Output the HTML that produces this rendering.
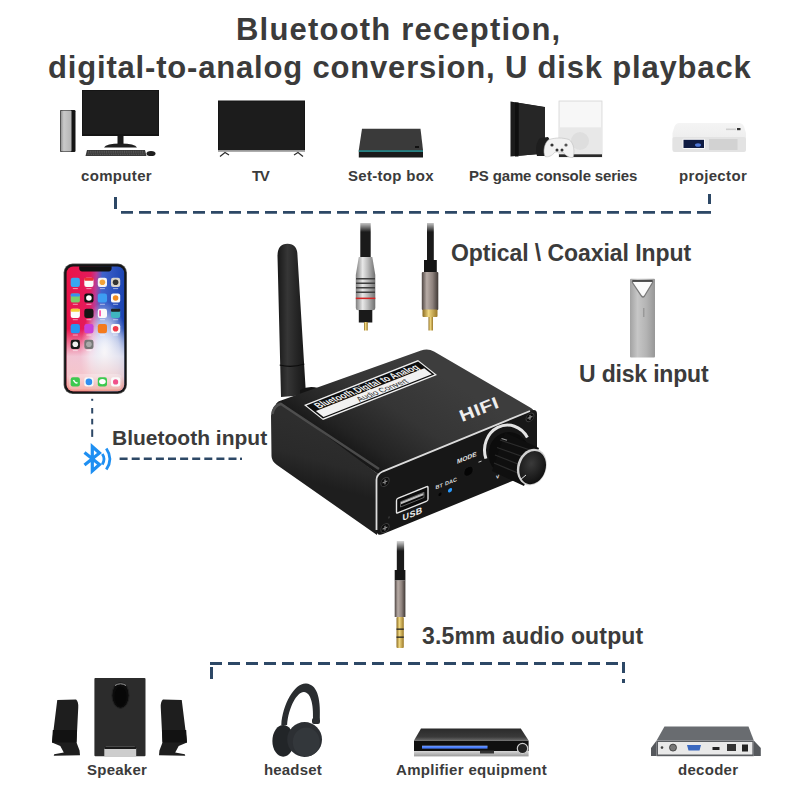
<!DOCTYPE html>
<html><head><meta charset="utf-8">
<style>
html,body{margin:0;padding:0;background:#fff;}
body{width:800px;height:800px;position:relative;overflow:hidden;font-family:"Liberation Sans",sans-serif;}
.t{position:absolute;white-space:nowrap;font-weight:bold;color:#3b3b3b;line-height:1;}
svg{position:absolute;left:0;top:0;}
</style></head><body>
<svg width="800" height="800" viewBox="0 0 800 800">
  <defs>
    <linearGradient id="towerG" x1="0" x2="1"><stop offset="0" stop-color="#8e8e8e"/><stop offset="0.3" stop-color="#c9c9c9"/><stop offset="1" stop-color="#b4b4b4"/></linearGradient>
    <linearGradient id="usbG" x1="0" x2="1"><stop offset="0" stop-color="#a2a2a2"/><stop offset="0.3" stop-color="#c6c6c6"/><stop offset="0.65" stop-color="#b4b4b4"/><stop offset="1" stop-color="#979797"/></linearGradient>
    <linearGradient id="projTop" x1="0" y1="0" x2="0" y2="1"><stop offset="0" stop-color="#f4f4f4"/><stop offset="1" stop-color="#e9e9e9"/></linearGradient>
    <linearGradient id="scrBase" x1="0" y1="0" x2="1" y2="0.1">
      <stop offset="0" stop-color="#ea1448"/><stop offset="0.42" stop-color="#e41a5c"/><stop offset="0.52" stop-color="#b83d98"/><stop offset="0.62" stop-color="#4063cc"/><stop offset="1" stop-color="#1c44b2"/></linearGradient>
    <linearGradient id="scrLow" x1="0" y1="0" x2="0" y2="1">
      <stop offset="0" stop-color="#fff" stop-opacity="0"/><stop offset="0.5" stop-color="#fff" stop-opacity="0"/><stop offset="0.72" stop-color="#f4f0f4" stop-opacity="0.8"/><stop offset="0.88" stop-color="#f6d8d8" stop-opacity="0.9"/><stop offset="1" stop-color="#f29a8a" stop-opacity="0.95"/></linearGradient>
    <radialGradient id="scrCenter" cx="0.66" cy="0.7" r="0.42"><stop offset="0" stop-color="#fff" stop-opacity="1"/><stop offset="0.6" stop-color="#fff" stop-opacity="0.6"/><stop offset="1" stop-color="#fff" stop-opacity="0"/></radialGradient>

    <linearGradient id="devTop" gradientUnits="userSpaceOnUse" x1="330" y1="445" x2="395" y2="345"><stop offset="0" stop-color="#151515"/><stop offset="0.18" stop-color="#232323"/><stop offset="0.55" stop-color="#353535"/><stop offset="1" stop-color="#3d3d3d"/></linearGradient>
    <linearGradient id="devLeft" gradientUnits="userSpaceOnUse" x1="300" y1="420" x2="285" y2="475"><stop offset="0" stop-color="#2e2e2e"/><stop offset="0.6" stop-color="#2a2a2a"/><stop offset="1" stop-color="#1e1e1e"/></linearGradient>
    <linearGradient id="silverH" x1="0" x2="1"><stop offset="0" stop-color="#7d7d7d"/><stop offset="0.35" stop-color="#e8e8e8"/><stop offset="0.6" stop-color="#bdbdbd"/><stop offset="1" stop-color="#6f6f6f"/></linearGradient>
    <linearGradient id="gunH" x1="0" x2="1"><stop offset="0" stop-color="#4e4542"/><stop offset="0.3" stop-color="#b8aca6"/><stop offset="0.65" stop-color="#8e827d"/><stop offset="1" stop-color="#3f3835"/></linearGradient>
    <linearGradient id="goldH" x1="0" x2="1"><stop offset="0" stop-color="#8a6a20"/><stop offset="0.4" stop-color="#f0d780"/><stop offset="1" stop-color="#9a7828"/></linearGradient>
    <linearGradient id="antG" x1="0" x2="1"><stop offset="0" stop-color="#181818"/><stop offset="0.35" stop-color="#363636"/><stop offset="0.7" stop-color="#242424"/><stop offset="1" stop-color="#161616"/></linearGradient>
    <linearGradient id="cableFade" x1="0" y1="0" x2="0" y2="1"><stop offset="0" stop-color="#fff" stop-opacity="1"/><stop offset="1" stop-color="#fff" stop-opacity="0"/></linearGradient>
    <linearGradient id="ampTop" x1="0" y1="0" x2="0" y2="1"><stop offset="0" stop-color="#2a2a2a"/><stop offset="0.7" stop-color="#3a3a3a"/><stop offset="1" stop-color="#6a6a6a"/></linearGradient>
    <linearGradient id="ampFront" x1="0" y1="0" x2="0" y2="1"><stop offset="0" stop-color="#d8d8d8"/><stop offset="1" stop-color="#9a9a9a"/></linearGradient>
    <radialGradient id="knobCap" cx="0.4" cy="0.4" r="0.7"><stop offset="0" stop-color="#3a3a3a"/><stop offset="1" stop-color="#0c0c0c"/></radialGradient>
  </defs>

  <g id="cables">
    <rect x="360.3" y="223" width="10.4" height="36" fill="#1a1a1a"/>
    <path d="M358.8 257 H372.3 L375.3 275 V308 Q375.3 310.3 373 310.3 H358 Q355.8 310.3 355.8 308 V275 Z" fill="url(#silverH)"/>
    <path d="M356 278.7h19M356 283.2h19M356 287.7h19M356 292.2h19" stroke="#3e3e3e" stroke-width="1.6"/>
    <rect x="355.8" y="297.6" width="19.5" height="1.5" fill="#d42424"/>
    <rect x="358.8" y="310" width="13.5" height="12.5" fill="#1a1a1a"/>
    <rect x="364" y="322" width="3.8" height="8.5" fill="url(#goldH)"/>
    <rect x="427" y="223" width="6.8" height="38" fill="#1a1a1a"/>
    <rect x="424" y="260" width="12.8" height="13.5" fill="#151515"/>
    <rect x="421.8" y="272" width="16.5" height="38" rx="1" fill="url(#gunH)"/>
    <rect x="422.5" y="309.5" width="15" height="7.5" rx="1" fill="url(#goldH)"/>
    <rect x="428.5" y="317" width="4.5" height="13.5" fill="url(#goldH)"/>
    <rect x="350" y="220" width="100" height="12" fill="url(#cableFade)"/>
    <rect x="396.8" y="541" width="7.3" height="30" fill="#1a1a1a"/>
    <rect x="390" y="539" width="20" height="12" fill="url(#cableFade)"/>
    <rect x="394.7" y="570" width="10.7" height="10.5" fill="#151515"/>
    <rect x="394.7" y="580.4" width="10.7" height="36.6" fill="url(#gunH)"/>
    <rect x="396.5" y="617" width="7.3" height="31" rx="1" fill="url(#goldH)"/>
    <rect x="396.5" y="628.5" width="7.3" height="1.3" fill="#222"/>
    <rect x="396.5" y="636.5" width="7.3" height="1.3" fill="#222"/>
  </g>
  <g id="device">
    <path d="M277.5 256 Q277.5 243.7 287.5 243.7 Q297.5 243.7 297.5 256 L306 395 L281 397 Z" fill="url(#antG)"/>
    <path d="M279.7 365 Q292 368 304.3 364" stroke="#0c0c0c" stroke-width="1.2" fill="none"/>
    <path d="M300 390 Q309 385 318 388 L318 396 L300 398 Z" fill="#141414"/>
    <path d="M276 405 Q276 402 281 400.5 L421 350.5 Q428 348 434 351.5 L531 408 Q536 411 531 413 L378 474 Z" fill="url(#devTop)"/>
    <path d="M271 416 Q271 406 280 401.5 L378 474 L377 535 L277 465 Q271.5 461 271.5 456 Z" fill="url(#devLeft)"/>
    <path d="M272.5 414 Q274 405 281 404 L379 469" stroke="#575757" stroke-width="2.6" fill="none" opacity="0.8"/>
    <path d="M376 480 Q376 474 383 471 L531 410.5 Q537 408.5 537 414 L537 471 L383 534 Q376.5 536.5 376.5 530 Z" fill="#171717"/>
    <path d="M376.5 530 V480 Q376.5 474.5 383 471.3 L530 411" stroke="#dcdcdc" stroke-width="1.8" fill="none"/>
    <g transform="matrix(0.95,-0.375,1.056,0.833,304,405)">
      <rect x="0" y="0" width="120" height="18" fill="#f1f1f1"/>
      <rect x="1.2" y="1.2" width="117.6" height="15.6" fill="#0e0e0e"/>
      <rect x="3" y="8.6" width="114" height="7.2" fill="#f1f1f1"/>
      <text x="0" y="0" transform="translate(7 7.6) scale(1 1.2)" font-family="Liberation Sans" font-weight="bold" font-size="6.6" fill="#f2f2f2" textLength="107" lengthAdjust="spacingAndGlyphs">Bluetooth,Digital to Analog</text>
      <text x="0" y="0" transform="translate(42 14.9) scale(1 1.15)" font-family="Liberation Sans" font-size="5.6" fill="#2a2a2a" textLength="52" lengthAdjust="spacingAndGlyphs">Audio Convert</text>
    </g>
    <text x="0" y="0" transform="translate(462 422) rotate(-21.5) scale(1.25 1)" font-family="Liberation Sans" font-weight="bold" font-size="16.5" fill="#eeeeee" letter-spacing="0.5">HIFI</text>
    <g transform="matrix(1,-0.405,0,1,0,0)">
      <circle cx="385" cy="637.9" r="4.2" fill="#0c0c0c" stroke="#3e3e3e" stroke-width="0.9"/>
      <path d="M382.6 637.9h4.8M385 635.5v4.8" stroke="#8a8a8a" stroke-width="1.2"/>
      <circle cx="385" cy="684" r="4.2" fill="#0c0c0c" stroke="#3e3e3e" stroke-width="0.9"/>
      <path d="M382.6 684h4.8M385 681.6v4.8" stroke="#8a8a8a" stroke-width="1.2"/>
      <circle cx="389" cy="675" r="1.1" fill="#333"/>
      <rect x="396.5" y="659.5" width="31.5" height="14.5" rx="1.5" fill="#0b0b0b" stroke="#e6e6e6" stroke-width="1.4"/>
      <rect x="400.5" y="664" width="23.5" height="5.2" fill="#0a0a0a" stroke="#8a8a8a" stroke-width="0.6"/>
      <rect x="401" y="664.5" width="22.5" height="2.2" fill="#bdbdbd"/>
      <text x="402.5" y="684" font-family="Liberation Sans" font-weight="bold" font-size="9" fill="#f0f0f0" letter-spacing="0.4">USB</text>
      <text x="435.5" y="666" font-family="Liberation Sans" font-weight="bold" font-size="5.5" fill="#dedede">BT</text>
      <text x="445" y="666" font-family="Liberation Sans" font-weight="bold" font-size="5.5" fill="#dedede">DAC</text>
      <circle cx="440" cy="672.5" r="1.6" fill="#030303"/>
      <circle cx="450" cy="672.5" r="2.1" fill="#2a9bff"/>
      <text x="457" y="649" font-family="Liberation Sans" font-weight="bold" font-size="6.5" fill="#e4e4e4">MODE</text>
      <circle cx="468.5" cy="661" r="4.6" fill="#050505" stroke="#1e1e1e" stroke-width="0.6"/>
      <rect x="478.5" y="655.5" width="3" height="1" fill="#ccc"/>
      <text x="496" y="680" font-family="Liberation Sans" font-weight="bold" font-size="6" fill="#ddd">v</text>
      <circle cx="530" cy="632" r="4" fill="#0c0c0c" stroke="#3e3e3e" stroke-width="0.9"/>
      <path d="M527.6 632h4.8M530 629.6v4.8" stroke="#8a8a8a" stroke-width="1.2"/>
    </g>
    <path d="M485.9 458.6 A23 25 0 0 1 527.4 437.5" stroke="#e4e4e4" stroke-width="3" fill="none"/>
    <ellipse cx="509" cy="454" rx="20.5" ry="22" fill="#0c0c0c"/>
    <path d="M505 432.5 L539 448 L524 486 L492 471 Z" fill="#0f0f0f"/>
    <path d="M500 440 L536 452 M497 447.5 L532 460 M495 455 L528 468 M494 463 L525 476" stroke="#2c2c2c" stroke-width="1.3"/>
    <path d="M501.5 438.5 L507 440.3" stroke="#9a9a9a" stroke-width="1.2"/>
    <g transform="translate(531.8 467) rotate(18)">
      <ellipse cx="0" cy="0" rx="14.5" ry="18.6" fill="#d0d0d0"/>
      <ellipse cx="1" cy="0.3" rx="12.9" ry="17" fill="url(#knobCap)"/>
    </g>
    <path d="M520 480 L526 475" stroke="#e0e0e0" stroke-width="1"/>
  </g>
  <g id="speakers">
    <rect x="94.4" y="678" width="51.1" height="78.2" rx="1" fill="#2c2c2c"/>
    <path d="M104.3 756.2 V748.5 Q104.3 746.8 106 746.8 H134.5 Q136.2 746.8 136.2 748.5 V756.2 Z" fill="#cdcdcd"/>
    <rect x="104.3" y="746.8" width="31.9" height="2.2" fill="#1a1a1a"/>
    <ellipse cx="120.5" cy="695.4" rx="8.6" ry="13" fill="#0c0c0c" stroke="#222" stroke-width="1"/>
    <path d="M115 685.5 Q120.5 682 126 685.5" stroke="#9a9a9a" stroke-width="1" fill="none"/>
    <ellipse cx="120.5" cy="696.5" rx="6" ry="10" fill="#070707"/>
    <path d="M57.25 700.1 L76.06 699.6 Q78.5 701.5 78.25 707.5 L76.5 742.5 L79.56 750.4 L80 755.2 L53.75 755.8 L54.2 754.3 L63.8 752.6 L60.3 746 L52 742.5 Z" fill="#1e1e1e"/>
    <path d="M52.8 730 L77 730 L76.5 742.5 L52 742.5 Z" fill="#121212"/>
    <g transform="translate(239 0) scale(-1 1)">
      <path d="M57.25 700.1 L76.06 699.6 Q78.5 701.5 78.25 707.5 L76.5 742.5 L79.56 750.4 L80 755.2 L53.75 755.8 L54.2 754.3 L63.8 752.6 L60.3 746 L52 742.5 Z" fill="#1e1e1e"/>
      <path d="M52.8 730 L77 730 L76.5 742.5 L52 742.5 Z" fill="#121212"/>
    </g>
  </g>
  <g id="headset">
    <path d="M281.3 724.9 C282.6 703.8 295 682.4 306.3 683.5 C316.4 684.6 320.9 695.9 319.8 719.5 L313 719.5 C313.6 703.8 310.8 692.5 304 691.9 C297.3 691.4 288.3 707.1 287.1 725.1 Z" fill="#2a2d30"/>
    <ellipse cx="283.2" cy="740.9" rx="10.8" ry="15.8" fill="#222528"/>
    <ellipse cx="304.6" cy="739.5" rx="17.4" ry="17.4" fill="#2c2f33"/>
    <ellipse cx="306.3" cy="742" rx="13.5" ry="14.6" fill="#33373b"/>
    <rect x="312" y="718" width="8" height="6" rx="2" fill="#2a2d30"/>
  </g>
  <g id="amp">
    <path d="M421 728.4 H520.8 L528.6 740.6 H414 Z" fill="url(#ampTop)"/>
    <rect x="414" y="740.6" width="114.6" height="10.5" fill="#101010"/>
    <rect x="414" y="751" width="114.6" height="5.4" fill="url(#ampFront)"/>
    <rect x="422" y="746" width="65.5" height="2.6" fill="#4a7fff"/>
    <rect x="422" y="745.5" width="65.5" height="1" fill="#9cc0ff" opacity="0.6"/>
    <circle cx="522.5" cy="748.5" r="5.2" fill="#222" stroke="#ccc" stroke-width="1.2"/>
    <rect x="480" y="750.5" width="14" height="3" fill="#333"/>
  </g>
  <g id="decoder">
    <path d="M664.5 726.6 H748.5 L753.8 740.6 H656.6 Z" fill="#696c70"/>
    <path d="M651 748 L656.6 740.6 V756 H651 Z" fill="#55585c"/>
    <path d="M760.8 748 L753.8 740.6 V756 H760.8 Z" fill="#55585c"/>
    <rect x="656.6" y="740.6" width="97.2" height="15.6" fill="#5a5d61"/>
    <rect x="658" y="742" width="94.4" height="12.5" fill="#e9e9e9"/>
    <circle cx="673" cy="747.6" r="3.5" fill="#777" stroke="#333" stroke-width="0.8"/>
    <circle cx="662" cy="747.6" r="1.3" fill="#444"/>
    <path d="M687 745 H701 L699.5 750.5 H688.5 Z" fill="#3a68c0"/>
    <rect x="712.5" y="747" width="7" height="3" fill="#222"/>
    <rect x="727" y="744" width="9" height="7" fill="#333"/>
    <rect x="742" y="744.5" width="6" height="7" fill="#222"/>
  </g>
  <g id="bt">
    <path d="M84.5 452.5 L99.5 464.5 L92.3 471 V446.5 L99.5 453 L84.5 465" stroke="#1e8ff2" stroke-width="3.2" fill="none" stroke-linejoin="miter"/>
    <path d="M102.3 454 Q105.8 459 102.3 464.5" stroke="#1e8ff2" stroke-width="2.8" fill="none"/>
    <path d="M106.3 448.5 Q113.5 459 106.3 469.5" stroke="#1e8ff2" stroke-width="2.8" fill="none"/>
  </g>
  <g id="computer">
    <rect x="60" y="110" width="15.5" height="42" rx="1.2" fill="#151515"/>
    <rect x="60.5" y="110.5" width="11" height="41" rx="1" fill="url(#towerG)"/>
    <rect x="82" y="90" width="77" height="46" fill="#151515"/>
    <rect x="83" y="91" width="75" height="43" fill="#1d1d1d"/>
    <rect x="117.5" y="136" width="6" height="9" fill="#1a1a1a"/>
    <path d="M104 147.5 Q106 143.5 120.5 143.5 Q135 143.5 137 147.5 Z" fill="#1f1f1f"/>
    <path d="M87 150 H145 L146.5 156 H85.5 Z" fill="#3a3a3a"/>
    <path d="M88 151.3 H144 M88 152.8 H144.5 M87.5 154.3 H145" stroke="#777" stroke-width="0.6" stroke-dasharray="1 0.8"/>
    <ellipse cx="151" cy="153.5" rx="4.5" ry="2.6" fill="#1e1e1e"/>
  </g>
  <g id="tv">
    <rect x="218" y="100.5" width="87" height="50.5" fill="#151515"/>
    <rect x="219" y="101.5" width="85" height="48.5" fill="#1c1c1c"/>
    <rect x="218" y="150" width="87" height="1.8" fill="#9a9a9a"/>
    <path d="M220 156.5 L225 152.5 L229 155" stroke="#2a2a2a" stroke-width="1.2" fill="none"/>
    <path d="M294 155 L298 152.5 L303 156.5" stroke="#2a2a2a" stroke-width="1.2" fill="none"/>
  </g>
  <g id="stb">
    <path d="M362 128.7 H420.5 L423 150 H358.8 Z" fill="#3a3a3a"/>
    <path d="M358.8 150 H423 V157.5 H358.8 Z" fill="#1a1a1a"/>
    <rect x="358.8" y="150.2" width="64.2" height="1.7" fill="#2b8d8f"/>
    <rect x="415" y="146" width="4" height="2" fill="#111"/>
  </g>
  <g id="ps">
    <path d="M510.5 101.5 L545 107 V153.5 L510.5 156.5 Z" fill="#1b1b1b"/>
    <path d="M519 103 L545 107.2 V153.5 L519 155.8 Z" fill="#262626"/>
    <rect x="515" y="102.5" width="3.5" height="54" fill="#0f0f0f"/>
    <rect x="559" y="101" width="43" height="56" fill="#f3f3f3" stroke="#d6d6d6" stroke-width="0.8"/>
    <rect x="560" y="102" width="41" height="25" fill="#f7f7f7"/>
    <rect x="560" y="127.5" width="41" height="26.5" fill="#e8e8e8"/>
    <circle cx="580" cy="141" r="9" fill="#dedede"/>
    <rect x="559" y="154.3" width="43" height="2.7" fill="#2a2a2a"/>
    <path d="M537 156 C535 150 536 142 540 138 L548 137 C551 140 551 150 550 156 Z" fill="#1e1e1e"/>
    <path d="M545 156.5 C543 152 544 143 549 139.5 C556 137.5 562 137.5 569 139.5 C574 143 575 152 573 157.5 C570 158 566 156 563 152 H555 C552 156 548 157.5 545 156.5 Z" fill="#f2f2f2" stroke="#bdbdbd" stroke-width="0.6"/>
    <circle cx="552" cy="145" r="1.6" fill="#333"/><circle cx="566" cy="145" r="1.6" fill="#555"/><circle cx="557" cy="150" r="1.5" fill="#333"/><circle cx="562" cy="150" r="1.5" fill="#333"/>
  </g>
  <g id="proj">
    <path d="M679 123 H739 Q742.5 123 744 126.5 L746 133 V148 Q746 152 742 152 H676 Q672.5 152 672.5 148 V133 L674.5 126.5 Q676 123 679 123 Z" fill="url(#projTop)"/>
    <rect x="672.5" y="137" width="73.5" height="15" rx="2" fill="#e3e3e3"/>
    <rect x="682.5" y="138.8" width="22.5" height="10.2" rx="1" fill="#f9f9f9"/>
    <rect x="683.5" y="139.8" width="20.5" height="8.2" fill="#0f1b42"/>
    <ellipse cx="698" cy="145" rx="3" ry="1.8" fill="#4f78d8"/>
    <rect x="709" y="139" width="28.5" height="11" fill="#d2d2d2"/>
    <rect x="726" y="128.5" width="10" height="1.6" fill="#cfcfcf"/><rect x="737" y="128" width="3.5" height="2.2" fill="#333"/>
  </g>
  <g id="phone">
    <rect x="63.6" y="263.6" width="63.3" height="130.3" rx="9" fill="#5a5a5a"/>
    <rect x="64.3" y="264.3" width="61.9" height="128.9" rx="8.4" fill="#161616"/>
    <rect x="66.6" y="266.6" width="57.6" height="124.6" rx="6.5" fill="url(#scrBase)"/>
    <rect x="66.6" y="266.6" width="57.6" height="124.6" rx="6.5" fill="url(#scrCenter)"/>
    <rect x="66.6" y="266.6" width="57.6" height="124.6" rx="6.5" fill="url(#scrLow)"/>
    <path d="M79.2 266.3 H111.6 V268.3 Q111.6 271.4 108.6 271.4 H82.2 Q79.2 271.4 79.2 268.3 Z" fill="#111"/>
    <rect x="69" y="374" width="52.5" height="15.5" rx="4" fill="#fff" opacity="0.25"/>
    <rect x="70.7" y="277.7" width="9.2" height="9.2" rx="2.2" fill="#39a7f2"/>
    <rect x="72.8" y="288.1" width="5" height="1" fill="#fff" opacity="0.55"/>
    <rect x="84.3" y="277.7" width="9.2" height="9.2" rx="2.2" fill="#fafafa"/>
    <rect x="84.3" y="277.7" width="9.2" height="3" rx="1" fill="#e33"/>
    <rect x="86.4" y="288.1" width="5" height="1" fill="#fff" opacity="0.55"/>
    <rect x="97.8" y="277.7" width="9.2" height="9.2" rx="2.2" fill="#f5f5f5"/>
    <circle cx="102.4" cy="282.3" r="2.8" fill="#f2a33a"/>
    <rect x="99.9" y="288.1" width="5" height="1" fill="#fff" opacity="0.55"/>
    <rect x="111.0" y="277.7" width="9.2" height="9.2" rx="2.2" fill="#d9d4cc"/>
    <circle cx="115.6" cy="282.3" r="2.8" fill="#333"/>
    <rect x="113.1" y="288.1" width="5" height="1" fill="#fff" opacity="0.55"/>
    <rect x="70.7" y="293.4" width="9.2" height="9.2" rx="2.2" fill="#7ccf6a"/>
    <rect x="70.7" y="293.4" width="9.2" height="3" rx="1" fill="#3b8ef0"/>
    <rect x="72.8" y="303.8" width="5" height="1" fill="#fff" opacity="0.55"/>
    <rect x="84.3" y="293.4" width="9.2" height="9.2" rx="2.2" fill="#111111"/>
    <circle cx="88.9" cy="298.0" r="2.8" fill="#fff"/>
    <rect x="86.4" y="303.8" width="5" height="1" fill="#fff" opacity="0.55"/>
    <rect x="97.8" y="293.4" width="9.2" height="9.2" rx="2.2" fill="#3d9df2"/>
    <rect x="99.9" y="303.8" width="5" height="1" fill="#fff" opacity="0.55"/>
    <rect x="111.0" y="293.4" width="9.2" height="9.2" rx="2.2" fill="#fbfbfb"/>
    <circle cx="115.6" cy="298.0" r="2.8" fill="#f08a1e"/>
    <rect x="113.1" y="303.8" width="5" height="1" fill="#fff" opacity="0.55"/>
    <rect x="70.7" y="308.8" width="9.2" height="9.2" rx="2.2" fill="#fbfbfb"/>
    <rect x="70.7" y="308.8" width="9.2" height="3" rx="1" fill="#f6cd3a"/>
    <rect x="72.8" y="319.2" width="5" height="1" fill="#fff" opacity="0.55"/>
    <rect x="84.3" y="308.8" width="9.2" height="9.2" rx="2.2" fill="#151515"/>
    <rect x="86.4" y="319.2" width="5" height="1" fill="#fff" opacity="0.55"/>
    <rect x="97.8" y="308.8" width="9.2" height="9.2" rx="2.2" fill="#fafafa"/>
    <rect x="99.3" y="310.3" width="1.5" height="6" fill="#f39"/>
    <rect x="99.9" y="319.2" width="5" height="1" fill="#fff" opacity="0.55"/>
    <rect x="111.0" y="308.8" width="9.2" height="9.2" rx="2.2" fill="#3fb6c0"/>
    <rect x="111.0" y="308.8" width="9.2" height="3" rx="1" fill="#222"/>
    <rect x="113.1" y="319.2" width="5" height="1" fill="#fff" opacity="0.55"/>
    <rect x="70.7" y="324.1" width="9.2" height="9.2" rx="2.2" fill="#2795f0"/>
    <rect x="72.8" y="334.5" width="5" height="1" fill="#fff" opacity="0.55"/>
    <rect x="84.3" y="324.1" width="9.2" height="9.2" rx="2.2" fill="#c93fd8"/>
    <rect x="86.4" y="334.5" width="5" height="1" fill="#fff" opacity="0.55"/>
    <rect x="97.8" y="324.1" width="9.2" height="9.2" rx="2.2" fill="#f47a1c"/>
    <rect x="99.9" y="334.5" width="5" height="1" fill="#fff" opacity="0.55"/>
    <rect x="111.0" y="324.1" width="9.2" height="9.2" rx="2.2" fill="#fafafa"/>
    <circle cx="115.6" cy="328.7" r="2.8" fill="#ef3b4a"/>
    <rect x="113.1" y="334.5" width="5" height="1" fill="#fff" opacity="0.55"/>
    <rect x="70.7" y="339.7" width="9.2" height="9.2" rx="2.2" fill="#1a1a1a"/>
    <circle cx="75.3" cy="344.3" r="2.8" fill="#f0f0f0"/>
    <rect x="72.8" y="350.1" width="5" height="1" fill="#fff" opacity="0.55"/>
    <rect x="84.3" y="339.7" width="9.2" height="9.2" rx="2.2" fill="#777777"/>
    <circle cx="88.9" cy="344.3" r="2.8" fill="#aaa"/>
    <rect x="86.4" y="350.1" width="5" height="1" fill="#fff" opacity="0.55"/>
    <rect x="70.7" y="377.3" width="9.2" height="9.2" rx="2.2" fill="#3cc94f"/>
    <rect x="84.3" y="377.3" width="9.2" height="9.2" rx="2.2" fill="#f7f7f7"/>
    <rect x="97.8" y="377.3" width="9.2" height="9.2" rx="2.2" fill="#3cc94f"/>
    <rect x="111.0" y="377.3" width="9.2" height="9.2" rx="2.2" fill="#fafafa"/>
    <circle cx="88.9" cy="381.9" r="3.3" fill="#2f8ff0"/>
    <circle cx="115.6" cy="381.9" r="2.6" fill="#f0508a"/>
    <ellipse cx="102.4" cy="381.6" rx="3.3" ry="2.6" fill="#fff"/>
    <path d="M73.5 380 q2 4 4 2.5" stroke="#fff" stroke-width="1.5" fill="none"/>
  </g>
  <g id="usb">
    <rect x="630" y="278.7" width="25" height="78.8" rx="1" fill="url(#usbG)"/>
    <path d="M632.5 280.8 H652.5 Q653 281.5 652.3 283 L644.5 296 Q643 298 641.5 296 L632.7 283 Q632 281.5 632.5 280.8 Z" fill="#fbfbfb" stroke="#7a7a7a" stroke-width="1.3"/>
    <path d="M632.5 281 H652.5" stroke="#3a3a3a" stroke-width="1.6"/>
    <rect x="643" y="308" width="1.5" height="9" fill="#999"/>
  </g>

  <g fill="#2d4866">
    <!-- top dashed line -->
    <rect x="114" y="197" width="3" height="12"/>
    <path d="M121 212.4h576" stroke="#2d4866" stroke-width="2.8" stroke-dasharray="12 6" fill="none"/>
    <rect x="697" y="211" width="14" height="2.8"/>
    <rect x="708" y="194" width="3" height="10"/>
    
    <!-- bottom dashed line -->
    <rect x="210" y="667" width="3" height="12"/>
    <path d="M210 663.5h408" stroke="#2d4866" stroke-width="3" stroke-dasharray="12 6" fill="none"/>
    <rect x="622" y="662" width="3" height="11"/>
    <rect x="622" y="679" width="3" height="4"/>
    <!-- bluetooth dashed -->
    <rect x="91.2" y="398.8" width="2" height="2"/><rect x="91.2" y="408" width="2" height="5.5"/><rect x="91.2" y="418.8" width="2" height="5.6"/><rect x="91.2" y="429.4" width="2" height="7.5"/>
    <path d="M119.6 458.8h120" stroke="#2d4866" stroke-width="2.4" stroke-dasharray="8 4.1" fill="none"/>
    <rect x="240" y="457.6" width="2" height="2.4"/>
  </g>
</svg>
<div class="t" id="l1" style="letter-spacing:1.2px;left:236px;top:14px;font-size:31px;">Bluetooth reception,</div>
<div class="t" id="l2" style="letter-spacing:0.82px;left:48px;top:52px;font-size:31px;">digital-to-analog conversion, U disk playback</div>
<div class="t" id="c1" style="letter-spacing:0.33px;left:81px;top:168px;font-size:15px;">computer</div>
<div class="t" id="c2" style="letter-spacing:-1.5px;left:252px;top:168px;font-size:15px;">TV</div>
<div class="t" id="c3" style="letter-spacing:0.3px;left:348px;top:168px;font-size:15px;">Set-top box</div>
<div class="t" id="c4" style="letter-spacing:-0.16px;left:469px;top:168px;font-size:15px;">PS game console series</div>
<div class="t" id="c5" style="letter-spacing:0.34px;left:679px;top:168px;font-size:15px;">projector</div>
<div class="t" id="o1" style="letter-spacing:-0.06px;left:451px;top:242px;font-size:23px;">Optical \ Coaxial Input</div>
<div class="t" id="u1" style="letter-spacing:-0.18px;left:579px;top:363px;font-size:23px;">U disk input</div>
<div class="t" id="b1" style="left:112px;top:426.5px;font-size:21px;">Bluetooth input</div>
<div class="t" id="a1" style="letter-spacing:0.16px;left:422px;top:625px;font-size:23px;">3.5mm audio output</div>
<div class="t" id="s1" style="letter-spacing:0.25px;left:87px;top:762px;font-size:15px;">Speaker</div>
<div class="t" id="s2" style="letter-spacing:0.17px;left:264px;top:762px;font-size:15px;">headset</div>
<div class="t" id="s3" style="letter-spacing:0.32px;left:396px;top:762px;font-size:15px;">Amplifier equipment</div>
<div class="t" id="s4" style="letter-spacing:0.28px;left:678px;top:762px;font-size:15px;">decoder</div>
</body></html>
